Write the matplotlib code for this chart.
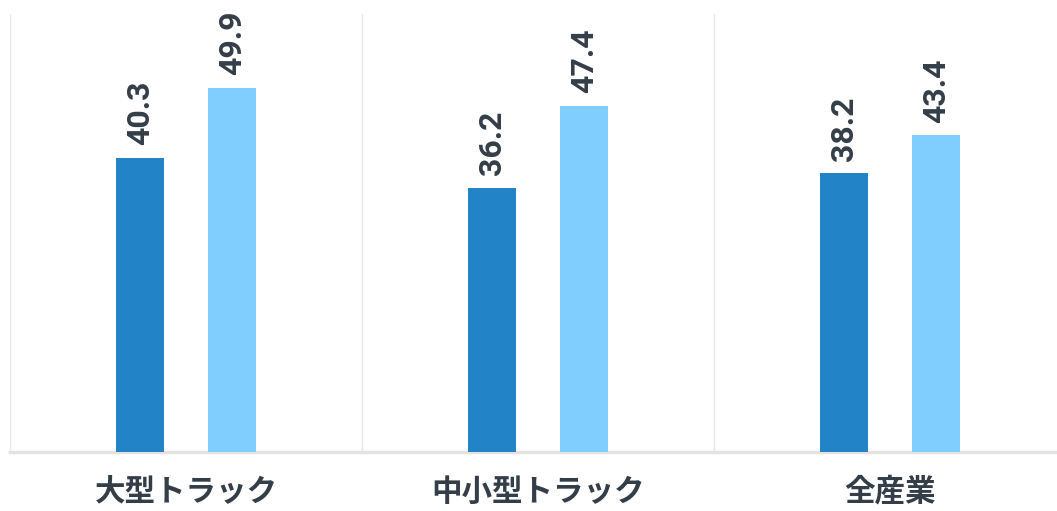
import numpy as np
import matplotlib.pyplot as plt

# data
categories = ['大型トラック', '中小型トラック', '全産業']
series_a = [40.3, 36.2, 38.2]
series_b = [49.9, 47.4, 43.4]

dark_blue = '#2284C6'
light_blue = '#7FCEFD'
text_col = '#333E48'

fig = plt.figure(figsize=(10.57, 5.11), dpi=100)
# category width 352px, so axes runs a little past the right edge
ax = fig.add_axes([10 / 1057, 59 / 511, 1056 / 1057, 438 / 511])

x = np.arange(len(categories))
w = 0.137
off = 0.13
bars_a = ax.bar(x - off, series_a, w, color=dark_blue, zorder=3)
bars_b = ax.bar(x + off, series_b, w, color=light_blue, zorder=3)

for bars in (bars_a, bars_b):
    for b in bars:
        ax.annotate(f'{b.get_height():.1f}', (b.get_x() + b.get_width() / 2, b.get_height()),
                    xytext=(0, 9), textcoords='offset points', rotation=90,
                    ha='center', va='bottom', fontsize=23, fontweight='bold',
                    family='Roboto', color=text_col)

ax.set_xlim(-0.5, 2.5)
ax.set_ylim(0, 60)

# vertical separators between categories
for xv in [-0.5, 0.5, 1.5]:
    ax.axvline(xv, color='#E8E8E8', lw=1, zorder=1)

ax.set_xticks(x)
ax.set_xticklabels(categories, family=['Noto Sans CJK JP', 'DejaVu Sans'],
                   fontsize=22, fontweight='bold', color=text_col)
ax.tick_params(axis='x', length=0, pad=17)
ax.set_yticks([])
for s in ['top', 'right', 'left']:
    ax.spines[s].set_visible(False)
ax.spines['bottom'].set_color('#E3E3E3')
ax.spines['bottom'].set_linewidth(2.5)

fig.savefig('out.png', dpi=100)
